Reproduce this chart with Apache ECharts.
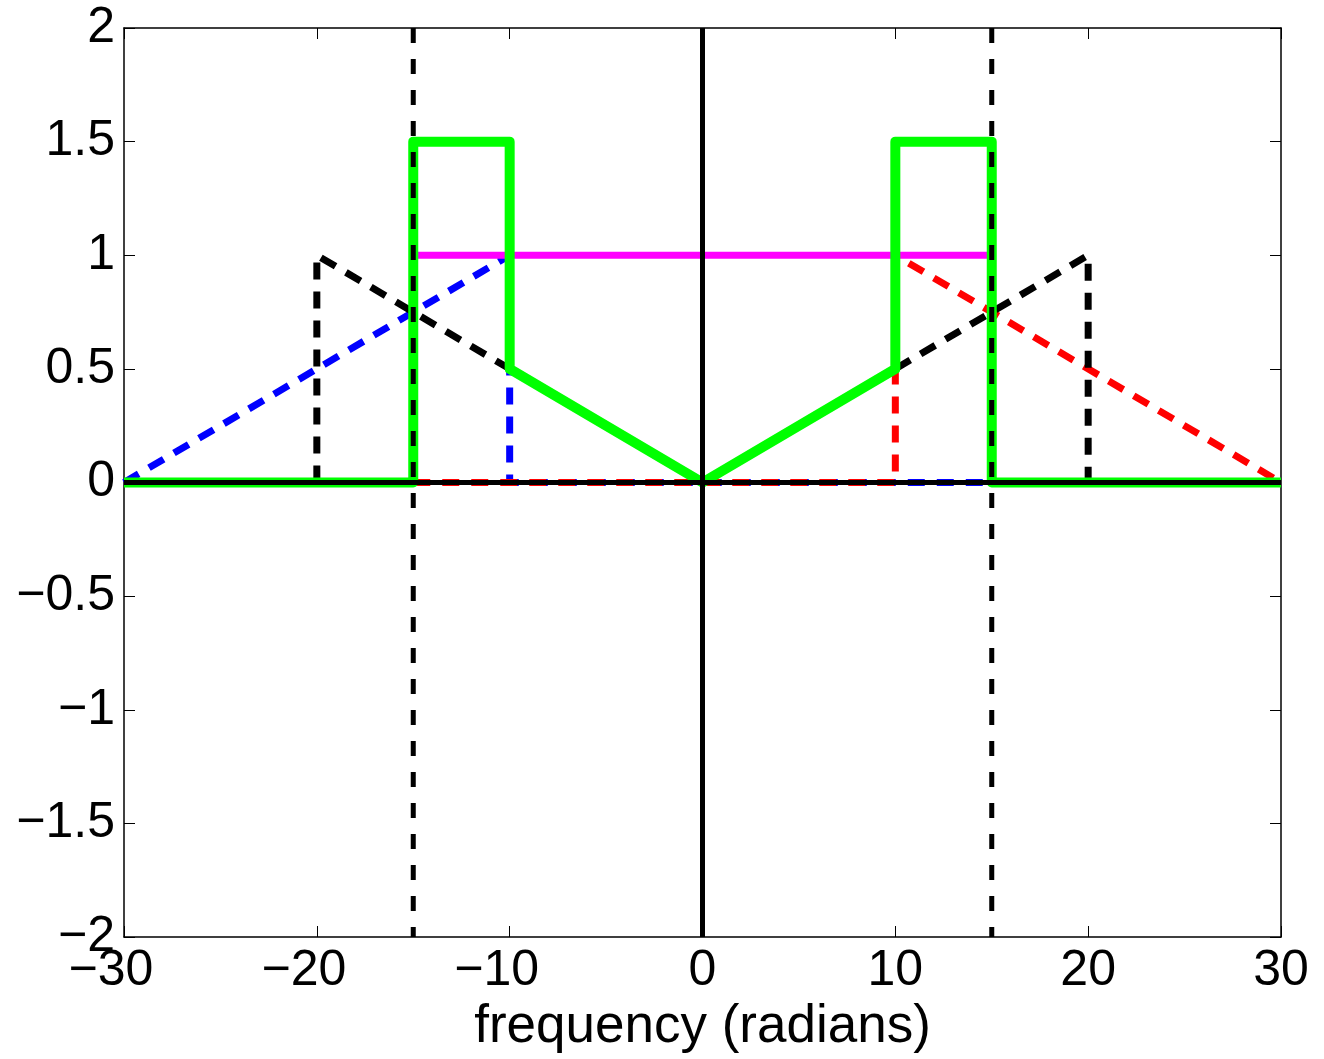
<!DOCTYPE html>
<html>
<head>
<meta charset="utf-8">
<script src="https://cdn.jsdelivr.net/npm/echarts@6/dist/echarts.min.js"></script>
<style>
html,body{margin:0;padding:0;background:#fff;}
#chart{width:1324px;height:1059px;}
</style>
</head>
<body>
<div id="chart"></div>
<script>
// ---- data ----
const xTicks = [-30, -20, -10, 0, 10, 20, 30];
const yTicks = [-2, -1.5, -1, -0.5, 0, 0.5, 1, 1.5, 2];

const blueX = [-30, -10, -10, 15];
const blueY = [0, 1, 0, 0];

const redX = [-15, 10, 10, 30];
const redY = [0, 0, 1, 0];

const blackDashX = [-20, -20, 0, 20, 20];
const blackDashY = [0, 1, 0, 1, 0];

const magentaX = [-15, 15];
const magentaY = [1, 1];

const greenX = [-30, -15, -15, -10, -10, 0, 10, 10, 15, 15, 30];
const greenY = [0, 0, 1.5, 1.5, 0.5, 0, 0.5, 1.5, 1.5, 0, 0];

const zeroLineX = [-30, 30];
const zeroLineY = [0, 0];
const originLineX = [0, 0];
const originLineY = [-2, 2];

const cutoffLeftX = [-15, -15];
const cutoffRightX = [15, 15];
const cutoffY = [2, -2];

const xLabelText = 'frequency (radians)';

// ---- helpers ----
function pairs(xs, ys) { return xs.map((x, i) => [x, ys[i]]); }
function fmt(v) {
  const s = String(Math.abs(v));
  return v < 0 ? '\u2212' + s : s;
}
const FONT = '"Liberation Sans", Arial, Helvetica, sans-serif';

function lineSeries(name, xs, ys, color, width, dash, z) {
  return {
    name: name, type: 'line', data: pairs(xs, ys),
    xAxisIndex: 0, yAxisIndex: 0,
    showSymbol: false, symbol: 'none', silent: true,
    clip: false,
    lineStyle: { color: color, width: width, type: dash || 'solid', cap: 'butt', join: 'round' },
    z: z, animation: false
  };
}

const chart = echarts.init(document.getElementById('chart'));
const option = {
  animation: false,
  backgroundColor: '#fff',
  grid: { left: 124, top: 28, right: 43, bottom: 122, containLabel: false, outerBoundsMode: 'none' },
  xAxis: [{
    type: 'value', min: -30, max: 30, interval: 10, position: 'bottom',
    name: xLabelText, nameLocation: 'middle', nameGap: 55,
    nameTextStyle: { fontFamily: FONT, fontSize: 53, color: '#000', verticalAlign: 'top' },
    axisLine: { show: true, onZero: false, lineStyle: { color: '#000', width: 1.5 } },
    axisTick: { show: true, inside: true, length: 11, lineStyle: { color: '#000', width: 1 } },
    splitLine: { show: false },
    axisLabel: {
      show: true, margin: 9, color: '#000', fontFamily: FONT, fontSize: 50,
      showMinLabel: true, showMaxLabel: true,
      formatter: function (v) { return v < 0 ? '{n|' + fmt(v) + '}' : '{p|' + fmt(v) + '}'; },
      rich: {
        n: { fontFamily: FONT, fontSize: 50, color: '#000', padding: [0, 26, 0, 0] },
        p: { fontFamily: FONT, fontSize: 50, color: '#000' }
      }
    }
  }, {
    type: 'value', min: -30, max: 30, interval: 10, position: 'top',
    axisLine: { show: true, onZero: false, lineStyle: { color: '#000', width: 1.5 } },
    axisTick: { show: true, inside: true, length: 11, lineStyle: { color: '#000', width: 1 } },
    splitLine: { show: false }, axisLabel: { show: false }
  }],
  yAxis: [{
    type: 'value', min: -2, max: 2, interval: 0.5, position: 'left',
    axisLine: { show: true, onZero: false, lineStyle: { color: '#000', width: 1.5 } },
    axisTick: { show: true, inside: true, length: 11, lineStyle: { color: '#000', width: 1 } },
    splitLine: { show: false },
    axisLabel: {
      show: true, margin: 9, color: '#000', fontFamily: FONT, fontSize: 50,
      showMinLabel: true, showMaxLabel: true, formatter: fmt
    }
  }, {
    type: 'value', min: -2, max: 2, interval: 0.5, position: 'right',
    axisLine: { show: true, onZero: false, lineStyle: { color: '#000', width: 1.5 } },
    axisTick: { show: true, inside: true, length: 11, lineStyle: { color: '#000', width: 1 } },
    splitLine: { show: false }, axisLabel: { show: false }
  }],
  series: [
    lineSeries('blue', blueX, blueY, '#0000ff', 7, [17, 12], 2),
    lineSeries('red', redX, redY, '#ff0000', 7, [17, 12], 3),
    lineSeries('blackTri', blackDashX, blackDashY, '#000000', 7, [17, 12], 4),
    lineSeries('magenta', magentaX, magentaY, '#ff00ff', 7, 'solid', 5),
    lineSeries('green', greenX, greenY, '#00ff00', 10, 'solid', 6),
    lineSeries('zero', zeroLineX, zeroLineY, '#000000', 5, 'solid', 7),
    lineSeries('origin', originLineX, originLineY, '#000000', 5, 'solid', 7),
    lineSeries('cutL', cutoffLeftX, cutoffY, '#000000', 5, [15, 16], 8),
    lineSeries('cutR', cutoffRightX, cutoffY, '#000000', 5, [15, 16], 8)
  ]
};
chart.setOption(option);
</script>
</body>
</html>
